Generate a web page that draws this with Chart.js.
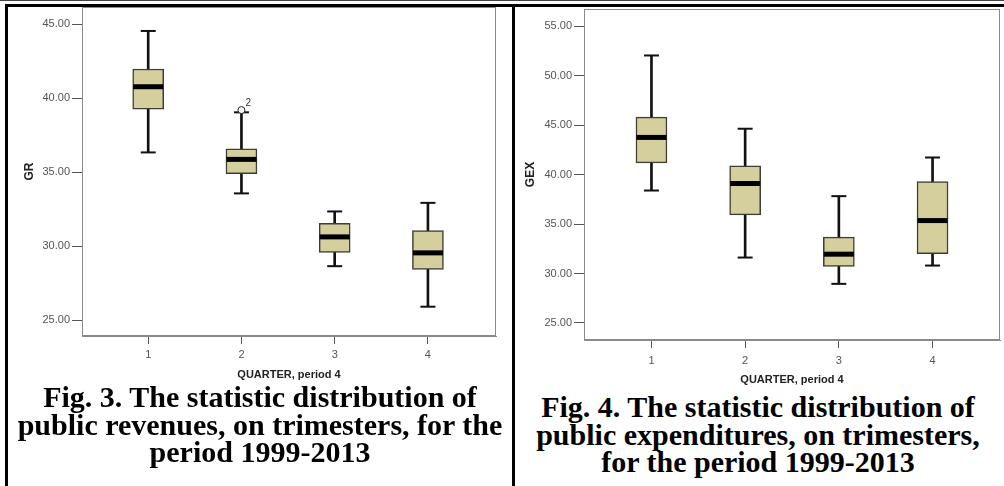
<!DOCTYPE html>
<html lang="en">
<head>
  <meta charset="UTF-8">
  <title>Statistic distribution of public revenues and expenditures</title>
  <script src="https://cdn.jsdelivr.net/npm/chart.js"></script>
  <style>
    body {
      margin: 0;
      width: 1004px;
      height: 486px;
      background: #ffffff;
      position: relative;
      overflow: hidden;
      font-family: Arial, 'Liberation Sans', sans-serif;
    }
    .rule { position: absolute; background: #000; }
    .chartBox { position: absolute; }
    .caption {
      position: absolute;
      font-family: 'Times New Roman', 'Liberation Serif', serif;
      font-weight: bold;
      font-size: 30px;
      line-height: 27.5px;
      text-align: center;
      color: #000;
      white-space: nowrap;
    }
  </style>
</head>
<body>
  <div class="chartBox" style="left:10px; top:-2px; width:490px; height:387px;">
    <canvas id="grChart"></canvas>
  </div>
  <div class="chartBox" style="left:516px; top:0px; width:488px; height:390px;">
    <canvas id="gexChart"></canvas>
  </div>

  <div class="rule" style="left:0; top:0; width:1004px; height:1px; background:#444;"></div>
  <div class="rule" style="left:5px; top:4px; width:999px; height:3px;"></div>
  <div class="rule" style="left:5px; top:4px; width:3px; height:482px;"></div>
  <div class="rule" style="left:512px; top:4px; width:3px; height:482px;"></div>

  <div class="caption" style="left:8px; top:383px; width:504px;">Fig. 3. The statistic distribution of<br>public revenues, on trimesters, for the<br>period 1999-2013</div>
  <div class="caption" style="left:515px; top:393px; width:486px;">Fig. 4. The statistic distribution of<br>public expenditures, on trimesters,<br>for the period 1999-2013</div>

  <script>
    // quarters on the x axis
    const quarters = [1, 2, 3, 4];

    // GR (public revenues)
    const grWhiskerLow  = [36.35, 33.58, 28.66, 25.92];
    const grQ1          = [39.28, 34.91, 29.59, 28.44];
    const grMedian      = [40.79, 35.88, 30.64, 29.56];
    const grQ3          = [41.99, 36.60, 31.55, 31.07];
    const grWhiskerHigh = [44.56, 39.06, 32.36, 32.94];
    const grOutlierQuarter = [2];
    const grOutlierValue   = [39.21];
    const grOutlierLabel   = ['2'];
    const grTicks = [25, 30, 35, 40, 45];

    // GEX (public expenditures)
    const gexWhiskerLow  = [38.40, 31.62, 28.96, 30.81];
    const gexQ1          = [41.20, 35.94, 30.71, 32.00];
    const gexMedian      = [43.77, 39.11, 31.96, 35.36];
    const gexQ3          = [45.83, 40.90, 33.68, 39.31];
    const gexWhiskerHigh = [52.06, 44.65, 37.83, 41.74];
    const gexOutlierQuarter = [];
    const gexOutlierValue   = [];
    const gexOutlierLabel   = [];
    const gexTicks = [25, 30, 35, 40, 45, 50, 55];

    const xTitle = 'QUARTER, period 4';
    const boxFill = '#d4cf9c';
    const boxEdge = '#3d3d35';
    const tickGray = '#555555';

    // frame round the plot area + little labels next to outliers
    const boxPlotExtras = {
      id: 'boxPlotExtras',
      afterDatasetsDraw(chart) {
        const { ctx, chartArea: a, scales } = chart;
        ctx.save();
        ctx.strokeStyle = '#8a8a8a';
        ctx.lineWidth = 1;
        ctx.strokeRect(a.left + 0.5, a.top + 0.5, a.right - a.left - 1, a.bottom - a.top - 1);
        const labels = chart.options.plugins.boxPlotExtras.labels || [];
        ctx.fillStyle = '#333';
        ctx.font = '10px Arial';
        ctx.textBaseline = 'bottom';
        labels.forEach(l => {
          const px = scales.x.getPixelForValue(l.x);
          const py = scales.y.getPixelForValue(l.y);
          ctx.fillText(l.text, px + 4, py - 2);
        });
        ctx.restore();
      }
    };

    function makeBoxChart(id, s) {
      const ctx = document.getElementById(id).getContext('2d');
      const pts = arr => quarters.map((q, i) => ({ x: q, y: arr[i] }));

      new Chart(ctx, {
        type: 'bar',
        data: {
          datasets: [
            {
              // median bar
              type: 'scatter',
              data: pts(s.median),
              pointStyle: 'line',
              pointRadius: 15,
              borderColor: '#000',
              borderWidth: 5,
              order: 0
            },
            {
              type: 'bar',
              data: quarters.map((q, i) => ({ x: q, y: [s.q1[i], s.q3[i]] })),
              backgroundColor: boxFill,
              borderColor: boxEdge,
              borderWidth: 1.5,
              borderSkipped: false,
              barThickness: 31,
              grouped: false,
              order: 1
            },
            {
              // whisker stems
              type: 'bar',
              data: quarters.map((q, i) => ({ x: q, y: [s.low[i], s.high[i]] })),
              backgroundColor: '#111',
              borderWidth: 0,
              barThickness: 2,
              grouped: false,
              order: 2
            },
            {
              // whisker caps
              type: 'scatter',
              data: pts(s.low).concat(pts(s.high)),
              pointStyle: 'line',
              pointRadius: 7.5,
              borderColor: '#111',
              borderWidth: 2,
              order: 0
            },
            {
              type: 'scatter',
              data: s.outQ.map((q, i) => ({ x: q, y: s.outV[i] })),
              pointStyle: 'circle',
              pointRadius: 3.5,
              backgroundColor: '#fff',
              borderColor: '#222',
              borderWidth: 1,
              order: -1
            }
          ]
        },
        options: {
          responsive: true,
          maintainAspectRatio: false,
          animation: false,
          events: [],
          layout: { autoPadding: false, padding: { top: 0, right: 4, bottom: 0, left: 0 } },
          plugins: {
            legend: { display: false },
            tooltip: { enabled: false },
            boxPlotExtras: {
              labels: s.outQ.map((q, i) => ({ x: q, y: s.outV[i], text: s.outL[i] }))
            }
          },
          scales: {
            x: {
              type: 'linear',
              min: s.xMin,
              max: s.xMax,
              offset: false,
              afterBuildTicks: axis => { axis.ticks = quarters.map(v => ({ value: v })); },
              afterFit: axis => { axis.height = s.xAxisHeight; },
              ticks: {
                color: tickGray,
                font: { family: 'Arial', size: 11 },
                padding: s.xTickPad,
                maxRotation: 0,
                callback: v => String(v)
              },
              grid: { offset: false, drawOnChartArea: false, tickLength: 8, tickColor: tickGray, tickWidth: 1 },
              border: { display: true, color: '#8a8a8a' },
              title: {
                display: true,
                text: xTitle,
                color: '#222',
                font: { family: 'Arial', size: 11, weight: 'bold' },
                padding: { top: 0, bottom: 3 }
              }
            },
            y: {
              min: s.yMin,
              max: s.yMax,
              afterBuildTicks: axis => { axis.ticks = s.ticks.map(v => ({ value: v })); },
              afterFit: axis => { axis.width = s.yAxisWidth; },
              ticks: {
                color: tickGray,
                font: { family: 'Arial', size: 11, lineHeight: '14px' },
                padding: 2,
                callback: v => Number(v).toFixed(2)
              },
              grid: { drawOnChartArea: false, tickLength: 10, tickColor: tickGray, tickWidth: 1 },
              border: { display: true, color: '#8a8a8a' },
              title: {
                display: true,
                text: s.yTitle,
                color: '#222',
                font: { family: 'Arial', size: 12, weight: 'bold' },
                padding: { top: s.yTitlePad, bottom: 0 }
              }
            }
          }
        },
        plugins: [boxPlotExtras]
      });
    }

    makeBoxChart('grChart', {
      low: grWhiskerLow, q1: grQ1, median: grMedian, q3: grQ3, high: grWhiskerHigh,
      outQ: grOutlierQuarter, outV: grOutlierValue, outL: grOutlierLabel,
      ticks: grTicks, yTitle: 'GR',
      yMin: 23.94, yMax: 46.18, xMin: 0.29, xMax: 4.73,
      yAxisWidth: 72, xAxisHeight: 49, xTickPad: 4, yTitlePad: 12
    });

    makeBoxChart('gexChart', {
      low: gexWhiskerLow, q1: gexQ1, median: gexMedian, q3: gexQ3, high: gexWhiskerHigh,
      outQ: gexOutlierQuarter, outV: gexOutlierValue, outL: gexOutlierLabel,
      ticks: gexTicks, yTitle: 'GEX',
      yMin: 23.28, yMax: 56.76, xMin: 0.28, xMax: 4.72,
      yAxisWidth: 68, xAxisHeight: 50, xTickPad: 6, yTitlePad: 7
    });
  </script>
</body>
</html>
